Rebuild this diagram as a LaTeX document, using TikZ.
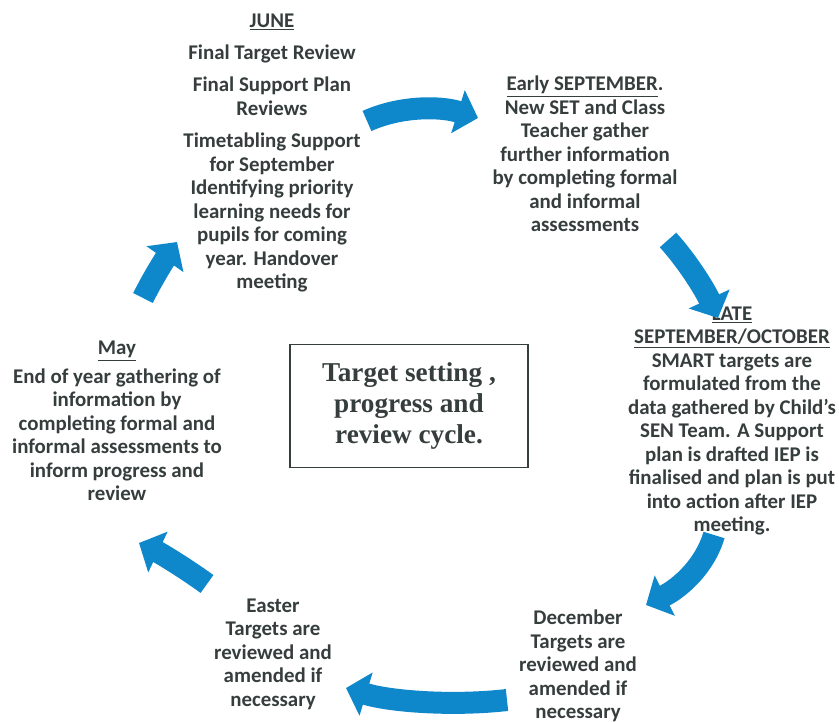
\documentclass[tikz,border=0pt]{standalone}
\usepackage{fontspec}
\setmainfont{Carlito}
\newfontfamily\titlefont{Liberation Serif}
\usetikzlibrary{arrows.meta, positioning}
\definecolor{cyclearrow}{HTML}{0E88CB}
\definecolor{cycletext}{HTML}{363D3D}

\begin{document}
\begin{tikzpicture}[
    x=0.02cm, y=-0.02cm, % one unit is one pixel of the sketch
    stage/.style={align=center, text=cycletext, inner sep=0pt, font=\bfseries\fontsize{11.9}{13.4}\selectfont},
    titlebox/.style={rectangle, draw=cycletext, line width=0.8pt, minimum width=4.76cm, minimum height=2.46cm, align=center, text=cycletext, font=\titlefont\bfseries\fontsize{15.5}{17.6}\selectfont},
    bigarrow/.style={draw=cyclearrow, line width=0.44cm, -{Triangle[length=0.42cm, width=0.88cm]}}
]

\useasboundingbox (0,0) rectangle (839,722);

% Central node
\node (cycle) at (409,406) [titlebox] {Target setting ,\\ progress and\\ review cycle.};

% Stages of the year, clockwise from the top
\node (june) at (272,153) [stage] {\underline{JUNE}\\[5pt]
    Final Target Review\\[5pt]
    Final Support Plan\\ Reviews\\[5pt]
    Timetabling Support\\ for September\\ Identifying priority\\ learning needs for\\ pupils for coming\\ year. Handover\\ meeting};

\node (september) at (585,154) [stage] {\underline{Early SEPTEMBER}.\\ New SET and Class\\ Teacher gather\\ further information\\ by completing formal\\ and informal\\ assessments};

\node (october) at (732,421) [stage] {\underline{LATE}\\ \underline{SEPTEMBER/OCTOBER}\\ SMART targets are\\ formulated from the\\ data gathered by Child's\\ SEN Team. A Support\\ plan is drafted IEP is\\ finalised and plan is put\\ into action after IEP\\ meeting.};

\node (december) at (578,666) [stage] {December\\ Targets are\\ reviewed and\\ amended if\\ necessary};

\node (easter) at (273,654) [stage] {Easter\\ Targets are\\ reviewed and\\ amended if\\ necessary};

\node (may) at (117,421) [stage] {\underline{May}\\[3pt] End of year gathering of\\ information by\\ completing formal and\\ informal assessments to\\ inform progress and\\ review};

% Arrow ends
\coordinate (junetail) at (367,121);
\coordinate (junetip) at (478,118);
\coordinate (septtail) at (668,240);
\coordinate (septtip) at (718,318);
\coordinate (octtail) at (714,535);
\coordinate (octtip) at (646,605);
\coordinate (dectail) at (507,700);
\coordinate (dectip) at (346,688);
\coordinate (eastertail) at (207,584);
\coordinate (eastertip) at (139,543);
\coordinate (maytail) at (143,298);
\coordinate (maytip) at (177,242);

% Connections
\draw [bigarrow] (junetail) .. controls (400,106) and (440,106) .. (junetip);
\draw [bigarrow] (septtail) .. controls (688,262) and (705,290) .. (septtip);
\draw [bigarrow] (octtail) .. controls (705,566) and (680,588) .. (octtip);
\draw [bigarrow] (dectail) .. controls (455,706) and (392,702) .. (dectip);
\draw [bigarrow] (eastertail) .. controls (185,568) and (160,553) .. (eastertip);
\draw [bigarrow] (maytail) .. controls (152,280) and (163,262) .. (maytip);

\end{tikzpicture}
\end{document}
